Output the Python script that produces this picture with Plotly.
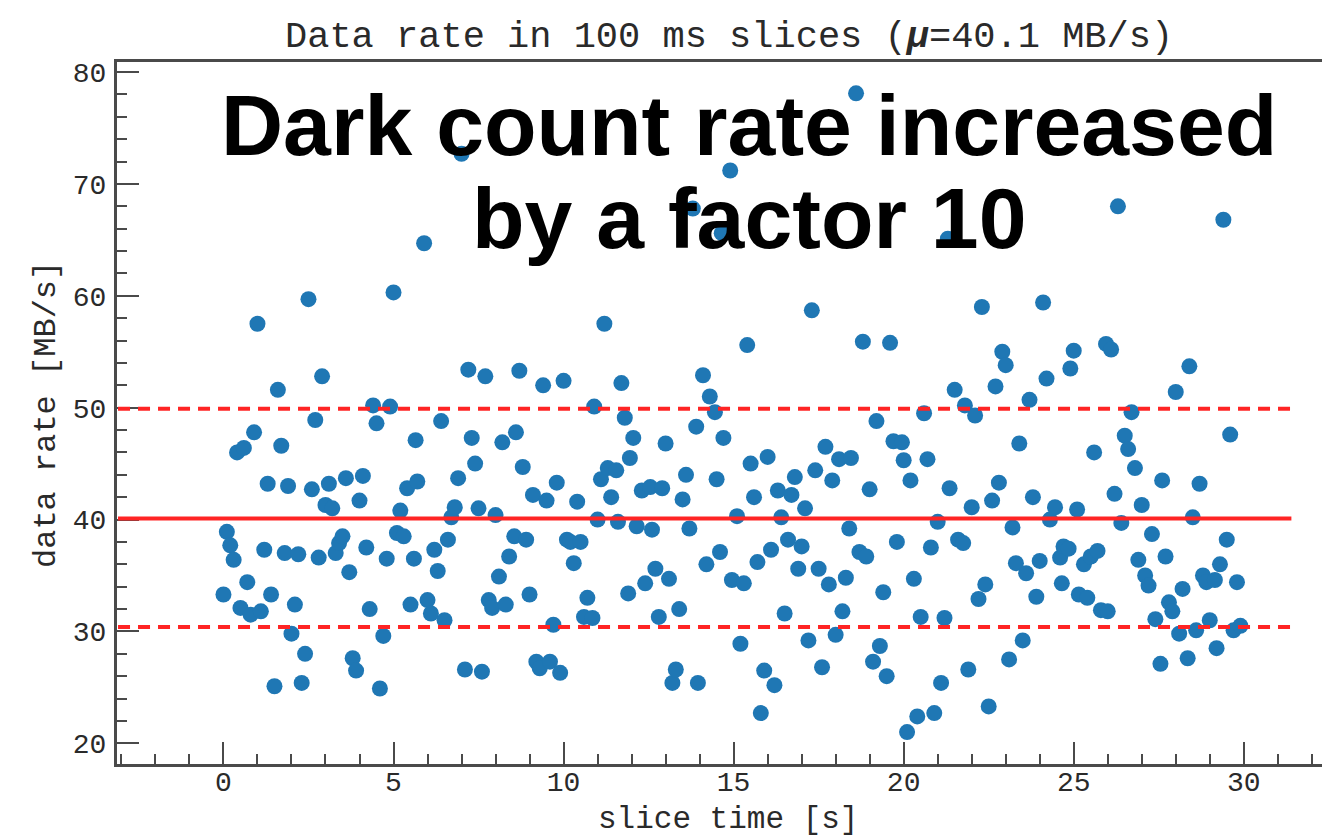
import plotly.graph_objects as go

# ---------------- data ----------------
slice_time = [
    0.0, 0.1, 0.2, 0.3, 0.4, 0.5, 0.6, 0.7, 0.8, 0.9, 1.0, 1.1, 1.2, 1.3, 1.4, 1.5, 1.6, 1.7, 1.8, 1.9,
    2.0, 2.1, 2.2, 2.3, 2.4, 2.5, 2.6, 2.7, 2.8, 2.9, 3.0, 3.1, 3.2, 3.3, 3.4, 3.5, 3.6, 3.7, 3.8, 3.9,
    4.0, 4.1, 4.2, 4.3, 4.4, 4.5, 4.6, 4.7, 4.8, 4.9, 5.0, 5.1, 5.2, 5.3, 5.4, 5.5, 5.6, 5.65, 5.7, 5.9,
    6.0, 6.1, 6.2, 6.3, 6.4, 6.5, 6.6, 6.7, 6.8, 6.9, 7.0, 7.1, 7.2, 7.3, 7.4, 7.5, 7.6, 7.7, 7.8, 7.9,
    8.0, 8.1, 8.2, 8.3, 8.4, 8.55, 8.6, 8.7, 8.8, 8.9, 9.0, 9.1, 9.2, 9.3, 9.4, 9.5, 9.6, 9.7, 9.8, 9.9,
    10.0, 10.1, 10.2, 10.3, 10.4, 10.5, 10.6, 10.7, 10.85, 10.9, 11.0, 11.1, 11.2, 11.3, 11.4, 11.55, 11.6, 11.7, 11.8, 11.9,
    11.95, 12.05, 12.15, 12.3, 12.4, 12.55, 12.6, 12.7, 12.8, 12.9, 13.0, 13.1, 13.2, 13.3, 13.4, 13.5, 13.6, 13.7, 13.8, 13.9,
    13.95, 14.1, 14.2, 14.3, 14.45, 14.5, 14.6, 14.65, 14.7, 14.9, 14.95, 15.1, 15.2, 15.3, 15.4, 15.5, 15.6, 15.7, 15.8, 15.9,
    16.0, 16.1, 16.2, 16.3, 16.4, 16.5, 16.6, 16.7, 16.8, 16.9, 17.0, 17.1, 17.2, 17.3, 17.4, 17.5, 17.6, 17.7, 17.8, 17.9,
    18.0, 18.1, 18.2, 18.3, 18.4, 18.45, 18.6, 18.7, 18.8, 18.9, 19.0, 19.1, 19.2, 19.3, 19.4, 19.5, 19.6, 19.7, 19.8, 19.95,
    20.0, 20.1, 20.2, 20.3, 20.4, 20.5, 20.6, 20.7, 20.8, 20.9, 21.0, 21.1, 21.2, 21.3, 21.35, 21.5, 21.6, 21.75, 21.8, 21.9,
    22.0, 22.1, 22.2, 22.3, 22.4, 22.5, 22.6, 22.7, 22.8, 22.9, 23.0, 23.1, 23.2, 23.3, 23.4, 23.5, 23.6, 23.7, 23.8, 23.9,
    24.0, 24.1, 24.2, 24.3, 24.45, 24.6, 24.65, 24.7, 24.85, 24.9, 25.0, 25.1, 25.15, 25.3, 25.4, 25.5, 25.6, 25.7, 25.8, 25.95,
    26.0, 26.1, 26.2, 26.3, 26.4, 26.5, 26.6, 26.7, 26.8, 26.9, 27.0, 27.1, 27.2, 27.3, 27.4, 27.55, 27.6, 27.7, 27.8, 27.9,
    28.0, 28.1, 28.2, 28.35, 28.4, 28.5, 28.6, 28.7, 28.8, 28.9, 29.0, 29.15, 29.2, 29.3, 29.4, 29.5, 29.6, 29.7, 29.8, 29.9,
]
data_rate = [
    33.3, 38.9, 37.7, 36.4, 46.0, 32.1, 46.4, 34.4, 31.5, 47.8, 57.5, 31.8, 37.3, 43.2, 33.3, 25.1, 51.6, 46.6, 37.0, 43.0,
    29.8, 32.4, 36.9, 25.4, 28.0, 59.7, 42.7, 48.9, 36.6, 52.8, 41.3, 43.2, 41.0, 37.0, 37.9, 38.5, 43.7, 35.3, 27.6, 26.5,
    41.7, 43.9, 37.5, 32.0, 50.2, 48.6, 24.9, 29.6, 36.5, 50.1, 60.3, 38.8, 40.8, 38.5, 42.8, 32.4, 36.5, 47.1, 43.4, 64.7,
    32.8, 31.6, 37.3, 35.4, 48.8, 31.0, 38.2, 40.2, 41.1, 43.7, 72.7, 26.6, 53.4, 47.3, 45.0, 41.0, 26.4, 52.8, 32.8, 32.1,
    40.4, 34.9, 46.9, 32.4, 36.7, 38.5, 47.8, 53.3, 44.7, 38.2, 33.3, 42.2, 27.3, 26.7, 52.0, 41.7, 27.3, 30.6, 43.3, 26.3,
    52.4, 38.2, 38.0, 36.1, 41.6, 38.0, 31.3, 33.0, 31.2, 50.1, 40.0, 43.6, 57.5, 44.6, 42.0, 44.4, 39.8, 52.2, 49.1, 33.4,
    45.5, 47.3, 39.4, 42.6, 34.3, 42.9, 39.1, 35.6, 31.3, 42.8, 46.8, 34.7, 25.4, 26.6, 32.0, 41.8, 44.0, 39.2, 67.8, 48.3,
    25.4, 52.9, 36.0, 51.0, 49.6, 43.6, 37.1, 65.6, 47.3, 71.2, 34.6, 40.3, 28.9, 34.3, 55.6, 45.0, 42.0, 36.2, 22.7, 26.5,
    45.6, 37.3, 25.2, 42.6, 40.2, 31.6, 38.2, 42.2, 43.8, 35.6, 37.6, 41.0, 29.2, 58.7, 44.4, 35.6, 26.8, 46.5, 34.2, 43.5,
    29.7, 45.4, 31.8, 34.8, 39.2, 45.5, 78.1, 37.1, 55.9, 36.7, 42.7, 27.3, 48.8, 28.7, 33.5, 26.0, 55.8, 47.0, 38.0, 46.9,
    45.3, 21.0, 43.5, 34.7, 22.4, 31.3, 49.5, 45.4, 37.5, 22.7, 39.8, 25.4, 31.2, 65.1, 42.8, 51.6, 38.2, 37.9, 50.2, 26.6,
    41.1, 49.3, 32.9, 59.0, 34.2, 23.3, 41.7, 51.9, 43.3, 55.0, 53.8, 27.5, 39.3, 36.1, 46.8, 29.2, 35.2, 50.7, 42.0, 33.1,
    36.3, 59.4, 52.6, 40.0, 41.1, 36.6, 34.3, 37.6, 37.4, 53.5, 55.1, 40.9, 33.3, 36.0, 33.0, 36.7, 46.0, 37.2, 31.9, 55.7,
    31.8, 55.2, 42.3, 68.0, 39.7, 47.5, 46.3, 49.6, 44.6, 36.4, 41.3, 35.0, 34.1, 38.7, 31.1, 27.1, 43.5, 36.7, 32.6, 31.8,
    51.4, 29.8, 33.8, 27.6, 53.7, 40.2, 30.1, 43.2, 35.0, 34.4, 31.0, 34.6, 28.5, 36.0, 66.8, 38.2, 47.6, 30.1, 34.4, 30.5,
]
mean_rate = 40.1
upper_band = 49.9
lower_band = 30.4
line_x_start = -3.1
line_x_end = 31.4

x_ticks = [0, 5, 10, 15, 20, 25, 30]
y_ticks = [20, 30, 40, 50, 60, 70, 80]

title_text = "Data rate in 100 ms slices (<b><i>\u03bc</i></b>=40.1 MB/s)"
x_title = "slice time [s]"
y_title = "data rate [MB/s]"
overlay_line1 = "Dark count rate increased"
overlay_line2 = "by a factor 10"

# ---------------- layout geometry ----------------
W, H = 1322, 836
L, R, T, B = 117, 0, 62, 72
plot_w = W - L - R
plot_h = H - T - B


def px_x(px):
    return (px - L) / plot_w


def px_y(py):
    return (H - B - py) / plot_h


mono = "Courier New, Liberation Mono, monospace"
axis_col = "#4a4a4a"
text_col = "#2a2a2a"
red = "#ff2424"

fig = go.Figure()
fig.add_trace(go.Scatter(
    x=slice_time, y=data_rate, mode="markers",
    marker=dict(color="#1f77b4", size=16, line=dict(width=0)),
    showlegend=False, hoverinfo="x+y",
))

for yv, dash in [(mean_rate, "solid"), (upper_band, "12px,8px"), (lower_band, "12px,8px")]:
    fig.add_shape(type="line", xref="x", yref="y",
                  x0=line_x_start, x1=line_x_end, y0=yv, y1=yv,
                  line=dict(color=red, width=4, dash=dash), layer="above")

fig.update_layout(
    width=W, height=H,
    margin=dict(l=L, r=R, t=T, b=B, pad=0),
    paper_bgcolor="white", plot_bgcolor="white",
    font=dict(family=mono, color=text_col),
    xaxis=dict(
        range=[-3.13, 32.3], tickvals=x_ticks, ticks="inside", ticklen=22, tickwidth=2,
        tickcolor=axis_col, showline=True, linewidth=3, linecolor=axis_col, mirror=True,
        showgrid=False, zeroline=False,
        minor=dict(dtick=1, tick0=0, ticks="inside", ticklen=10, tickwidth=2, tickcolor=axis_col, showgrid=False),
        tickfont=dict(family=mono, size=28, color=text_col),
        ticklabelstandoff=-10,
    ),
    yaxis=dict(
        range=[18.15, 80.9], tickvals=y_ticks, ticks="inside", ticklen=22, tickwidth=2,
        tickcolor=axis_col, showline=True, linewidth=3, linecolor=axis_col, mirror=False,
        showgrid=False, zeroline=False,
        minor=dict(dtick=2, tick0=0, ticks="inside", ticklen=10, tickwidth=2, tickcolor=axis_col, showgrid=False),
        tickfont=dict(family=mono, size=28, color=text_col),
        ticklabelstandoff=2,
    ),
)

annotations = [
    dict(text=title_text, x=px_x(729), y=px_y(37), xanchor="center", yanchor="middle",
         font=dict(family=mono, size=37, color=text_col)),
    dict(text=x_title, x=px_x(728), y=px_y(819), xanchor="center", yanchor="middle",
         font=dict(family=mono, size=31, color=text_col)),
    dict(text=y_title, x=px_x(46), y=px_y(415), xanchor="center", yanchor="middle", textangle=-90,
         font=dict(family=mono, size=32, color=text_col)),
    dict(text="<b>" + overlay_line1 + "</b>", x=px_x(749), y=px_y(125), xanchor="center", yanchor="middle",
         font=dict(family="Liberation Sans, Arial, Helvetica, sans-serif", size=86, color="black")),
    dict(text="<b>" + overlay_line2 + "</b>", x=px_x(749), y=px_y(218), xanchor="center", yanchor="middle",
         font=dict(family="Liberation Sans, Arial, Helvetica, sans-serif", size=86, color="black")),
]
for a in annotations:
    a.update(xref="paper", yref="paper", showarrow=False)
fig.update_layout(annotations=annotations)

fig.write_html("out.html")
